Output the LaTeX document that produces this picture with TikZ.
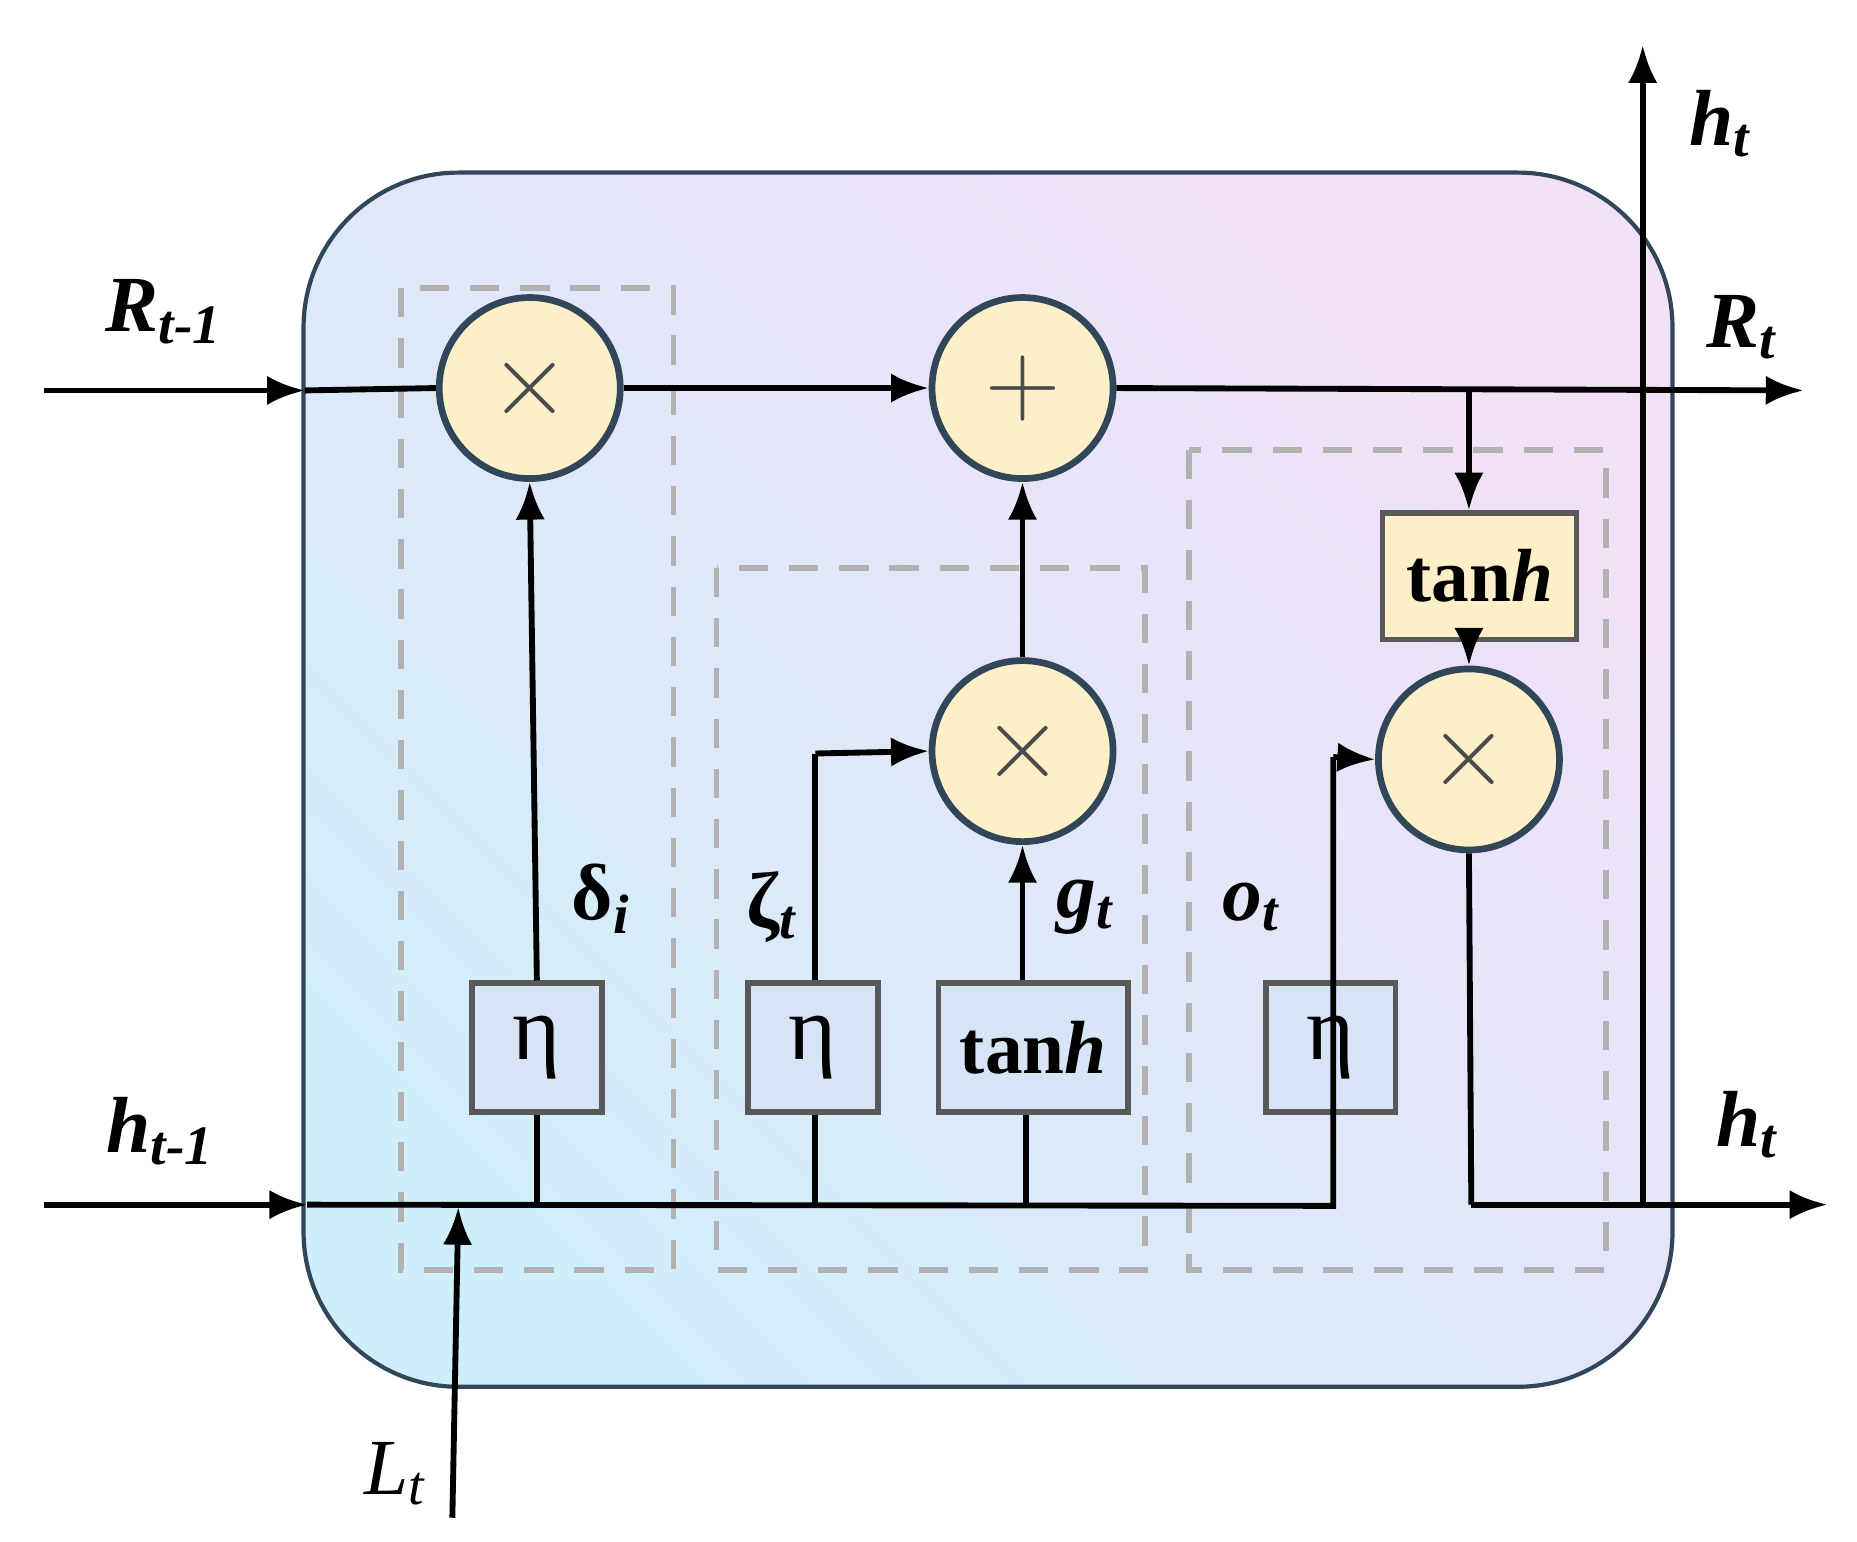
\documentclass[tikz,border=0pt]{standalone}
\usepackage{fontspec}
\setmainfont{Liberation Serif}
\usetikzlibrary{arrows.meta}
\definecolor{cA}{RGB}{208,238,250}
\definecolor{cB}{RGB}{242,224,246}
\definecolor{circF}{RGB}{253,240,200}
\definecolor{circD}{RGB}{50,70,90}
\definecolor{boxF}{RGB}{214,228,245}
\definecolor{yelF}{RGB}{253,240,200}
\begin{document}
\begin{tikzpicture}[x=0.01cm,y=-0.01cm,
  ln/.style={line width=1.4pt},
  ar/.style={ln,-{Latex[length=9pt,width=7pt]}},
  op/.style={circle,draw=circD,line width=1.6pt,fill=circF,minimum size=1.52cm,inner sep=0pt,font=\fontsize{30}{30}\selectfont\color{black!70}},
  eta/.style={draw=black!65,line width=1.3pt,fill=boxF,minimum width=1.09cm,minimum height=1.08cm,inner sep=0pt,font=\fontsize{22}{22}\selectfont},
  dbox/.style={draw=black!30,dashed,dash pattern=on 7pt off 5pt,line width=1.3pt},
  lab/.style={font=\fontsize{19}{19}\selectfont\bfseries\itshape}]
\useasboundingbox (0,0) rectangle (1560,1295);
\shade[left color=cA,right color=cB,shading angle=135] (255,145) [rounded corners=1.3cm] rectangle (1405,1165);
\draw[circD,line width=1pt,rounded corners=1.3cm] (255,145) rectangle (1405,1165);
\draw[dbox] (337,242) rectangle (566,1067);
\draw[dbox] (602,477) rectangle (962,1067);
\draw[dbox] (999,378) rectangle (1349,1067);
\node[op] (m1) at (445,326) {$\times$};
\node[op] (p) at (859,326) {$+$};
\node[op] (m2) at (859,631) {$\times$};
\node[op] (m3) at (1234,638) {$\times$};
\node[eta] (e1) at (451,880) {η};
\node[eta] (e2) at (683,880) {η};
\node[eta,minimum width=1.59cm] (t1) at (868,880) {\fontsize{18}{18}\selectfont\bfseries tan\textit{h}};
\node[eta] (e3) at (1118,880) {η};
\node[draw=black!65,line width=1.3pt,fill=yelF,minimum width=1.63cm,minimum height=1.06cm] (t2) at (1243,484) {\fontsize{18}{18}\selectfont\bfseries tan\textit{h}};
% coordinates
\coordinate (rin) at (37,328);
\coordinate (rb) at (256,328);
\coordinate (rout) at (1515,328);
\coordinate (br) at (1234,325);
\coordinate (hin) at (37,1012);
\coordinate (hb) at (258,1012);
\coordinate (hend) at (1120,1013);
\coordinate (hup) at (1120,636);
\coordinate (m3d) at (1236,1012);
\coordinate (hout) at (1535,1012);
\coordinate (vb) at (1380,1015);
\coordinate (vt) at (1380,38);
\coordinate (lb) at (380,1275);
\coordinate (lt) at (385,1014);
\coordinate (j1) at (453,1012);
\coordinate (j2) at (685,1012);
\coordinate (j3) at (862,1012);
\coordinate (z) at (685,633);
% connectors
\draw[ar] (rin) -- (rb);
\draw[ln] (rb) -- (m1.west);
\draw[ar] (m1.east) -- (p.west);
\draw[ar] (p.east) -- (rout);
\draw[ar] (br) -- (t2.north -| br);
\draw[ar] (t2.south -| m3.north) -- (m3.north);
\draw[ar] (hin) -- (hb);
\draw[ln] (hb) -- (hend) -- (hup);
\draw[ar] (hup) -- (m3.west);
\draw[ln] (e1.south |- j1) -- (e1.south);
\draw[ln] (j2) -- (e2.south -| j2);
\draw[ln] (j3) -- (t1.south -| j3);
\draw[ar] (e1.north) -- (m1.south);
\draw[ln] (e2.north -| z) -- (z);
\draw[ar] (z) -- (m2.west);
\draw[ar] (t1.north -| m2.south) -- (m2.south);
\draw[ar] (m2.north) -- (p.south);
\draw[ln] (m3.south) -- (m3d);
\draw[ar] (m3d) -- (hout);
\draw[ar] (vb) -- (vt);
\draw[ar] (lb) -- (lt);
% labels
\node[lab] (l1) at (138,262) {R\textsubscript{t-1}};
\node[lab] (l2) at (1463,275) {R\textsubscript{t}};
\node[lab] (l3) at (1445,104) {h\textsubscript{t}};
\node[lab] (l4) at (135,950) {h\textsubscript{t-1}};
\node[lab] (l5) at (1468,945) {h\textsubscript{t}};
\node[font=\fontsize{19}{19}\selectfont\itshape] (l6) at (332,1238) {L\textsubscript{t}};
\node[lab] (l7) at (505,755) {\upshape δ\textsubscript{\itshape i}};
\node[lab] (l8) at (648,762) {\upshape ζ\textsubscript{\itshape t}};
\node[lab] (l9) at (912,762) {g\textsubscript{t}};
\node[lab] (l10) at (1051,762) {o\textsubscript{t}};
\end{tikzpicture}
\end{document}
